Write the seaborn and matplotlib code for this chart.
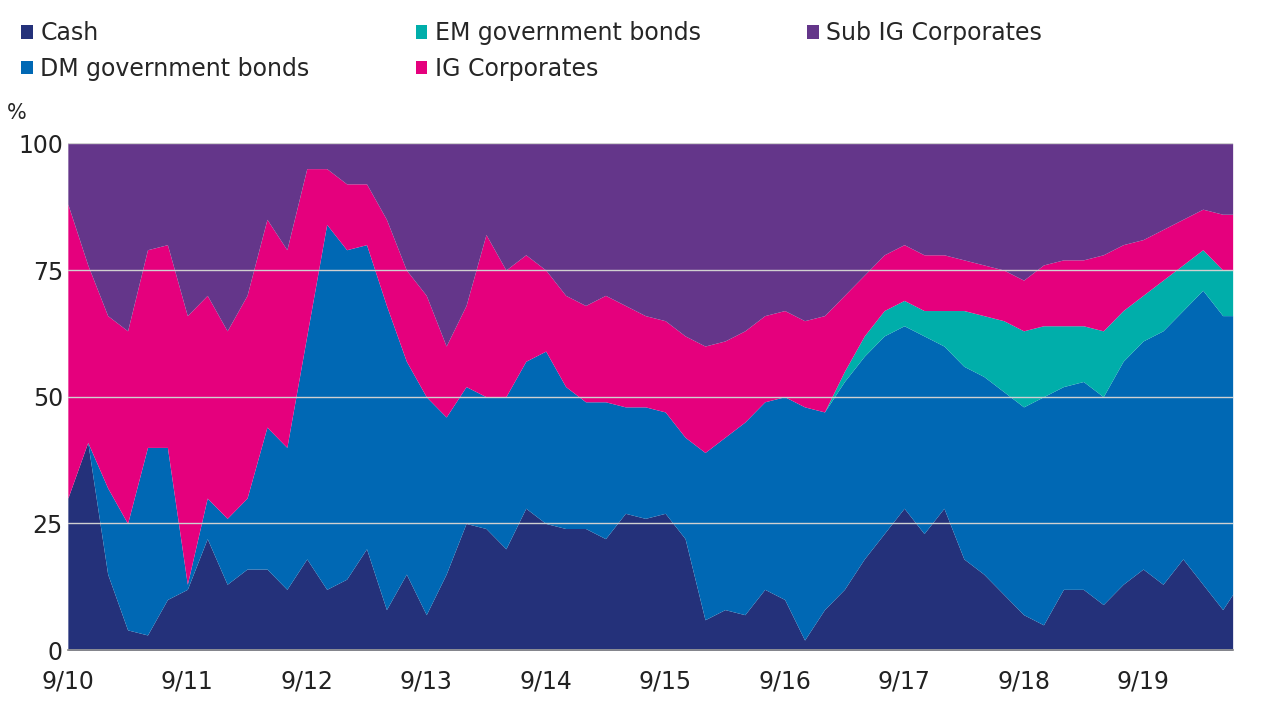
import matplotlib
matplotlib.use("Agg")
import matplotlib.pyplot as plt
import seaborn as sns
import numpy as np

sns.set_theme(style="white")
plt.rcParams["font.family"] = "DejaVu Sans"

# months since Sep 2010 (every 2 months)
months = [2*i for i in range(59)] + [117]
cash_top = [30,41,15,4,3,10,12,22,13,16,16,12,18,12,14,20,8,15,7,15,25,24,20,28,25,24,24,22,27,26,27,22,6,8,7,12,10,2,8,12,18,23,28,23,28,18,15,11,7,5,12,12,9,13,16,13,18,13,8,11]
dm_top = [30,41,32,25,40,40,13,30,26,30,44,40,62,84,79,80,68,57,50,46,52,50,50,57,59,52,49,49,48,48,47,42,39,42,45,49,50,48,47,53,58,62,64,62,60,56,54,51,48,50,52,53,50,57,61,63,67,71,66,66]
em_top = [30,41,32,25,40,40,13,30,26,30,44,40,62,84,79,80,68,57,50,46,52,50,50,57,59,52,49,49,48,48,47,42,39,42,45,49,50,48,47,55,62,67,69,67,67,67,66,65,63,64,64,64,63,67,70,73,76,79,75,75]
ig_top = [88,76,66,63,79,80,66,70,63,70,85,79,95,95,92,92,85,75,70,60,68,82,75,78,75,70,68,70,68,66,65,62,60,61,63,66,67,65,66,70,74,78,80,78,78,77,76,75,73,76,77,77,78,80,81,83,85,87,86,86]
sub_top = [100]*len(months)
tick_labels = ["9/10","9/11","9/12","9/13","9/14","9/15","9/16","9/17","9/18","9/19"]
names = ["Cash","DM government bonds","EM government bonds","IG Corporates","Sub IG Corporates"]
colors = ["#24317a","#0068b4","#00aeaa","#e5007d","#64368a"]

fig = plt.figure(figsize=(12.8,7.2), dpi=100)
ax = fig.add_axes([0.053,0.097,0.910,0.704])
x = np.array(months)
layers = [np.zeros(len(x)), cash_top, dm_top, em_top, ig_top, sub_top]
for k in range(5):
    ax.fill_between(x, layers[k], layers[k+1], color=colors[k], linewidth=0, label=names[k])
ax.set_xlim(0,117)
ax.set_ylim(0,100)
ax.set_yticks([0,25,50,75,100])
ax.set_xticks([12*i for i in range(10)])
ax.set_xticklabels(tick_labels)
ax.tick_params(labelsize=17, colors="#222222", length=0)
ax.yaxis.grid(True, color="#d0d0d0", linewidth=1)
ax.set_axisbelow(False)
for s in ["top","right","left"]:
    ax.spines[s].set_visible(False)
ax.spines["bottom"].set_color("#888888")
ax.tick_params(axis="x", length=6, color="#888888", direction="out", pad=8)
fig.text(0.005,0.835,"%",fontsize=15)
handles, labels = ax.get_legend_handles_labels()
fig.legend(handles, labels, loc="upper left", bbox_to_anchor=(0.0,1.0), ncol=3, frameon=False,
           fontsize=17, handlelength=0.5, handleheight=0.5, handletextpad=0.3, columnspacing=4.5, labelspacing=0.5)
fig.savefig("out.png", dpi=100)
